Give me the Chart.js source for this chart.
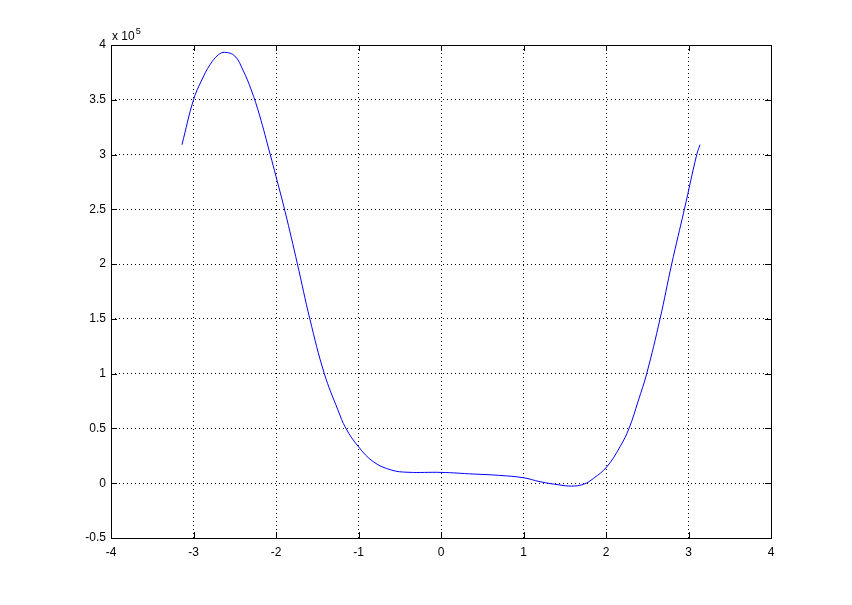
<!DOCTYPE html>
<html>
<head>
<meta charset="utf-8">
<script src="https://cdn.jsdelivr.net/npm/chart.js@4/dist/chart.umd.min.js"></script>
<style>
  html, body { margin: 0; padding: 0; background: #fff; }
  #wrap { width: 852px; height: 605px; }
</style>
</head>
<body>
<div id="wrap"><canvas id="plot" width="852" height="605"></canvas></div>
<script>
var xValues = [-3.14, -3.0, -2.9, -2.8, -2.7, -2.62, -2.5, -2.4, -2.3, -2.2,
  -2.07, -2.0, -1.89, -1.74, -1.59, -1.414, -1.25, -1.152, -1.0, -0.82, -0.6, -0.4,
  0.0, 0.39, 0.7, 1.0, 1.2, 1.44, 1.584, 1.726, 1.85, 2.01, 2.17, 2.279, 2.39, 2.493,
  2.655, 2.796, 2.95, 3.1, 3.14];
var yValues = [309000, 350000, 368000, 382000, 391000, 393300, 390000, 377000, 359000, 336000,
  300000, 280000, 248000, 200000, 150000, 100000, 67000, 50000, 33300, 19600, 12000, 10000,
  9900, 8400, 7200, 5000, 1400, -1600, -2600, -1000, 4500, 15000, 33300, 50000, 75000, 100000,
  150000, 200000, 250000, 300000, 309000];

var xTicks = [-4, -3, -2, -1, 0, 1, 2, 3, 4];
var yTicks = [-0.5, 0, 0.5, 1, 1.5, 2, 2.5, 3, 3.5, 4]; // x 10^5
var yExponent = 5;

var points = xValues.map(function (x, i) { return { x: x, y: yValues[i] }; });

var FONT = 'Liberation Sans, Arial, Helvetica, sans-serif';

// box, inward ticks and exponent label, like the matlab axes
var boxPlugin = {
  id: 'box',
  afterDraw: function (chart) {
    var ctx = chart.ctx, a = chart.chartArea;
    var xs = chart.scales.x, ys = chart.scales.y;
    var len = 6;
    ctx.save();
    ctx.strokeStyle = '#000';
    ctx.lineWidth = 1;
    ctx.beginPath();
    xs.ticks.forEach(function (t) {
      var px = Math.round(xs.getPixelForValue(t.value)) + 0.5;
      ctx.moveTo(px, a.bottom); ctx.lineTo(px, a.bottom - len);
      ctx.moveTo(px, a.top); ctx.lineTo(px, a.top + len);
    });
    ys.ticks.forEach(function (t) {
      var py = Math.round(ys.getPixelForValue(t.value)) + 0.5;
      ctx.moveTo(a.left, py); ctx.lineTo(a.left + len, py);
      ctx.moveTo(a.right, py); ctx.lineTo(a.right - len, py);
    });
    ctx.stroke();
    ctx.strokeRect(Math.round(a.left) + 0.5, Math.round(a.top) + 0.5,
      Math.round(a.right - a.left), Math.round(a.bottom - a.top));

    ctx.fillStyle = '#000';
    ctx.textBaseline = 'alphabetic';
    ctx.font = '12px ' + FONT;
    ctx.fillText('x 10', a.left + 1, a.top - 5);
    var w = ctx.measureText('x 10').width;
    ctx.font = '9px ' + FONT;
    ctx.fillText(String(yExponent), a.left + 1 + w + 1, a.top - 11);
    ctx.restore();
  }
};

new Chart(document.getElementById('plot'), {
  type: 'scatter',
  data: {
    datasets: [{
      data: points,
      showLine: true,
      borderColor: '#0000ff',
      borderWidth: 1,
      pointRadius: 0,
      tension: 0.4,
      fill: false
    }]
  },
  options: {
    responsive: false,
    animation: false,
    layout: { padding: { left: 0, top: 45, right: 81, bottom: 0 } },
    plugins: { legend: { display: false }, tooltip: { enabled: false } },
    scales: {
      x: {
        type: 'linear',
        min: xTicks[0],
        max: xTicks[xTicks.length - 1],
        afterBuildTicks: function (s) { s.ticks = xTicks.map(function (v) { return { value: v }; }); },
        afterFit: function (s) { s.height = 67; },
        grid: { color: '#000', drawTicks: false, lineWidth: 1 },
        border: { display: false, dash: [1, 3] },
        ticks: {
          color: '#000',
          padding: 7,
          maxRotation: 0,
          autoSkip: false,
          font: { family: FONT, size: 12 },
          callback: function (v) { return String(v); }
        }
      },
      y: {
        type: 'linear',
        min: yTicks[0] * Math.pow(10, yExponent),
        max: yTicks[yTicks.length - 1] * Math.pow(10, yExponent),
        afterBuildTicks: function (s) {
          s.ticks = yTicks.map(function (v) { return { value: v * Math.pow(10, yExponent) }; });
        },
        afterFit: function (s) { s.width = 111; },
        grid: { color: '#000', drawTicks: false, lineWidth: 1 },
        border: { display: false, dash: [1, 3] },
        ticks: {
          color: '#000',
          padding: 5,
          autoSkip: false,
          font: { family: FONT, size: 12 },
          callback: function (v) { return String(Math.round(v / 1000) / 100); }
        }
      }
    }
  },
  plugins: [boxPlugin]
});
</script>
</body>
</html>
